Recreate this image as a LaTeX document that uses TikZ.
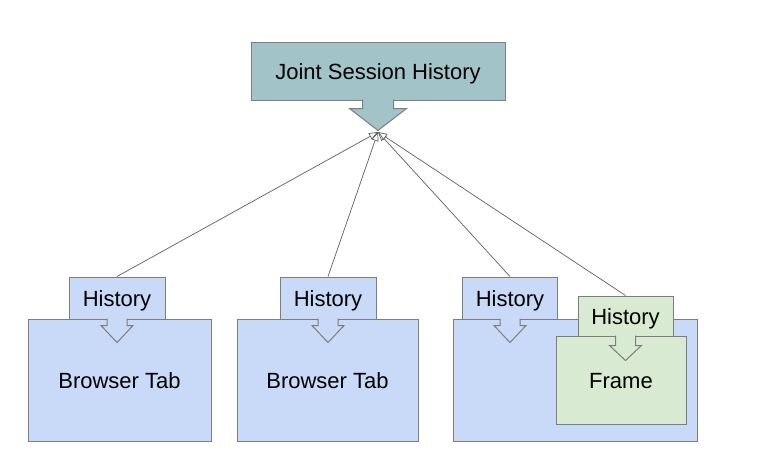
\documentclass[tikz,border=0pt]{standalone}
\usepackage{fontspec}
\setmainfont{Liberation Sans}
\usepackage{tikz}
\usetikzlibrary{calc,arrows.meta,positioning}
\definecolor{myteal}{RGB}{162,196,201}
\definecolor{myblue}{RGB}{201,218,248}
\definecolor{mygreen}{RGB}{217,234,211}
\definecolor{myborder}{RGB}{125,125,125}
\definecolor{mywire}{RGB}{95,95,95}
\tikzstyle{box}=[draw=myborder,line width=1pt,inner sep=0pt,text height=16pt,text depth=0pt,font=\fontsize{22}{26}\selectfont]
\tikzstyle{wire}=[draw=mywire,line width=0.7pt,-{Triangle[open,length=9pt,width=7pt,fill=white]}]
% down pointer under a box: node, shaft half width, wing half width, shaft length, tip length, fill
\newcommand{\pointer}[6]{
  \filldraw[draw=myborder,line width=1pt,fill=#6]
    ($(#1.south)+(-#2,-1)$) -- ($(#1.south)+(-#2,#4)$) -- ($(#1.south)+(-#3,#4)$)
    -- ($(#1.south)+(0,#5)$) -- ($(#1.south)+(#3,#4)$) -- ($(#1.south)+(#2,#4)$)
    -- ($(#1.south)+(#2,-1)$);
}

\begin{document}
\begin{tikzpicture}[x=1pt,y=-1pt]
\useasboundingbox (0,0) rectangle (761,467);
% top
\draw (378, 71) node [box, fill=myteal, minimum width=254pt, minimum height=58pt] (jsh) {Joint Session History};
\pointer{jsh}{15.5}{28.5}{8}{30}{myteal}
\coordinate (jtip) at (378, 132);
% first tab
\draw (119.5, 380) node [box, fill=myblue, minimum width=183pt, minimum height=122pt] (tab1) {Browser Tab};
\draw (117, 298) node [box, fill=myblue, minimum width=96pt, minimum height=42pt] (hist1) {History};
\pointer{hist1}{10}{16}{6}{23}{myblue}
% second tab
\draw (327.5, 380) node [box, fill=myblue, minimum width=181pt, minimum height=122pt] (tab2) {Browser Tab};
\draw (328, 298) node [box, fill=myblue, minimum width=96pt, minimum height=42pt] (hist2) {History};
\pointer{hist2}{10}{16}{6}{23}{myblue}
% third tab with frame
\draw (575, 380) node [box, fill=myblue, minimum width=244pt, minimum height=122pt] (tab3) {};
\draw (510, 298) node [box, fill=myblue, minimum width=95pt, minimum height=42pt] (hist3) {History};
\pointer{hist3}{10}{16}{6}{23}{myblue}
\draw (621, 380) node [box, fill=mygreen, minimum width=130pt, minimum height=88pt] (frame) {Frame};
\draw (625.5, 316) node [box, fill=mygreen, minimum width=95pt, minimum height=40pt] (hist4) {History};
\pointer{hist4}{10}{16}{9}{24}{mygreen}
% links
\draw[wire] (hist1.north) -- (jtip);
\draw[wire] (hist2.north) -- (jtip);
\draw[wire] (hist3.north) -- (jtip);
\draw[wire] (hist4.north) -- (jtip);
\end{tikzpicture}
\end{document}
